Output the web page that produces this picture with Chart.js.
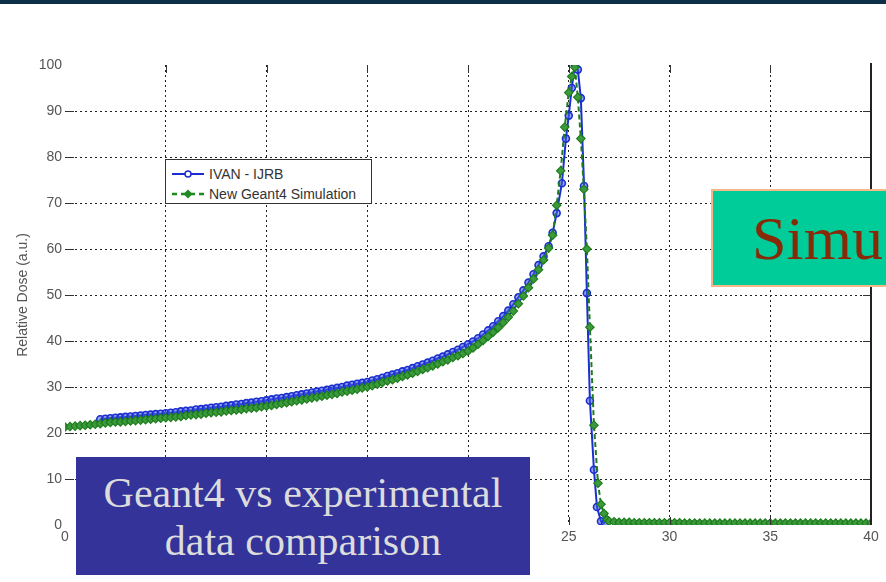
<!DOCTYPE html>
<html>
<head>
<meta charset="utf-8">
<script src="https://cdn.jsdelivr.net/npm/chart.js@4.4.0/dist/chart.umd.min.js"></script>
<style>
  html, body { margin: 0; padding: 0; width: 886px; height: 582px; overflow: hidden; background: #fff; }
  #chart { position: absolute; left: 0; top: 0; }
  .topbar { position: absolute; left: 0; top: 0; width: 886px; height: 4px; background: #0c3048; }
  .legend { position: absolute; left: 165px; top: 159px; width: 207px; height: 45px; box-sizing: border-box;
            border: 1px solid #333; background: #fff; font: 14px "Liberation Sans", Arial, sans-serif; color: #333; }
  .legend .row { position: absolute; left: 5px; height: 16px; line-height: 16px; white-space: nowrap; }
  .legend svg { position: absolute; left: 0; top: 2px; }
  .legend span { position: absolute; left: 38px; top: 0; }
  .simu { position: absolute; left: 711px; top: 189px; width: 200px; height: 98px; box-sizing: border-box;
          border: 2px solid #f5b888; background: #00cc99; color: #862a08;
          font: 62px "Liberation Serif", "Times New Roman", serif; line-height: 94px; padding-left: 39px; }
  .caption { position: absolute; left: 76px; top: 457px; width: 454px; height: 118px; box-sizing: border-box;
             background: #333399; color: #dcdcdc; text-align: center; padding-top: 12px;
             font: 42px "Liberation Serif", "Times New Roman", serif; line-height: 48px; }
</style>
</head>
<body>
<canvas id="chart" width="886" height="582"></canvas>
<div class="topbar"></div>
<div class="legend">
  <div class="row" style="top:6px; width:200px;">
    <svg width="34" height="12"><line x1="1" y1="6" x2="33" y2="6" stroke="#1a2fd0" stroke-width="2"/><circle cx="17" cy="6" r="3" fill="#fff" stroke="#1a2fd0" stroke-width="1.5"/></svg>
    <span>IVAN - IJRB</span>
  </div>
  <div class="row" style="top:26px; width:200px;">
    <svg width="34" height="12"><line x1="1" y1="6" x2="33" y2="6" stroke="#1f8a1f" stroke-width="2.5" stroke-dasharray="5,4"/><polygon points="17,1.5 21.5,6 17,10.5 12.5,6" fill="#1f8a1f"/></svg>
    <span>New Geant4 Simulation</span>
  </div>
</div>
<div class="simu">Simu</div>
<div class="caption">Geant4 vs experimental<br>data comparison</div>

<script>
// depth (mm) and relative dose
const depthSim = [
  0, 0.25, 0.5, 0.75, 1, 1.25, 1.5, 1.75, 2, 2.25, 2.5, 2.75, 3, 3.25, 3.5, 3.75,
  4, 4.25, 4.5, 4.75, 5, 5.25, 5.5, 5.75, 6, 6.25, 6.5, 6.75, 7, 7.25, 7.5, 7.75,
  8, 8.25, 8.5, 8.75, 9, 9.25, 9.5, 9.75, 10, 10.25, 10.5, 10.75, 11, 11.25, 11.5, 11.75,
  12, 12.25, 12.5, 12.75, 13, 13.25, 13.5, 13.75, 14, 14.25, 14.5, 14.75, 15, 15.25, 15.5, 15.75,
  16, 16.25, 16.5, 16.75, 17, 17.25, 17.5, 17.75, 18, 18.25, 18.5, 18.75, 19, 19.25, 19.5, 19.75,
  20, 20.25, 20.5, 20.75, 21, 21.25, 21.5, 21.75, 22, 22.25, 22.5, 22.75, 23, 23.25, 23.5, 23.75,
  24, 24.2, 24.4, 24.6, 24.8, 25, 25.15, 25.3, 25.45, 25.6, 25.75, 25.9, 26.05, 26.25, 26.45, 26.6, 26.75, 26.9,
  27, 27.25, 27.5, 27.75, 28, 28.25, 28.5, 28.75, 29, 29.25, 29.5, 29.75, 30, 30.25, 30.5, 30.75,
  31, 31.25, 31.5, 31.75, 32, 32.25, 32.5, 32.75, 33, 33.25, 33.5, 33.75, 34, 34.25, 34.5, 34.75,
  35, 35.25, 35.5, 35.75, 36, 36.25, 36.5, 36.75, 37, 37.25, 37.5, 37.75, 38, 38.25, 38.5, 38.75,
  39, 39.25, 39.5, 39.75, 40
];
const doseSim = [
  21.3, 21.4, 21.5, 21.6, 21.7, 21.8, 21.9, 22.0, 22.2, 22.3, 22.4, 22.4, 22.5, 22.6, 22.7, 22.8,
  22.9, 23.0, 23.1, 23.2, 23.3, 23.4, 23.5, 23.6, 23.8, 23.9, 24.0, 24.1, 24.3, 24.4, 24.5, 24.6,
  24.8, 24.9, 25.0, 25.1, 25.3, 25.4, 25.5, 25.7, 25.8, 26.0, 26.2, 26.4, 26.6, 26.8, 27.0, 27.2,
  27.4, 27.6, 27.8, 28.0, 28.2, 28.4, 28.6, 28.9, 29.1, 29.3, 29.5, 29.8, 30.0, 30.3, 30.6, 31.0,
  31.3, 31.6, 31.9, 32.3, 32.6, 33.0, 33.4, 33.8, 34.2, 34.6, 35.0, 35.5, 35.9, 36.4, 36.8, 37.3,
  37.8, 38.5, 39.3, 40.1, 41.0, 41.9, 42.9, 44.0, 45.2, 46.5, 48.1, 49.8, 51.6, 53.5, 55.5, 57.6,
  60.2, 63.0, 69.5, 77.0, 86.5, 94.0, 97.5, 99.5, 93.0, 84.0, 73.0, 60.0, 43.0, 21.7, 9.1, 4.5, 2.5, 1.2,
  0.8, 0.7, 0.6, 0.6, 0.6, 0.5, 0.5, 0.5, 0.5, 0.5, 0.5, 0.5, 0.5, 0.5, 0.5, 0.4,
  0.4, 0.4, 0.4, 0.4, 0.4, 0.4, 0.4, 0.4, 0.4, 0.4, 0.4, 0.4, 0.4, 0.4, 0.4, 0.4,
  0.4, 0.4, 0.4, 0.4, 0.4, 0.4, 0.4, 0.4, 0.4, 0.4, 0.4, 0.4, 0.4, 0.4, 0.4, 0.4,
  0.4, 0.4, 0.4, 0.4, 0.4
];

const depthExp = [
  1.75, 2, 2.25, 2.5, 2.75, 3, 3.25, 3.5, 3.75, 4, 4.25, 4.5, 4.75, 5, 5.25, 5.5, 5.75,
  6, 6.25, 6.5, 6.75, 7, 7.25, 7.5, 7.75, 8, 8.25, 8.5, 8.75, 9, 9.25, 9.5, 9.75,
  10, 10.25, 10.5, 10.75, 11, 11.25, 11.5, 11.75, 12, 12.25, 12.5, 12.75, 13, 13.25, 13.5, 13.75,
  14, 14.25, 14.5, 14.75, 15, 15.25, 15.5, 15.75, 16, 16.25, 16.5, 16.75, 17, 17.25, 17.5, 17.75,
  18, 18.25, 18.5, 18.75, 19, 19.25, 19.5, 19.75, 20, 20.25, 20.5, 20.75, 21, 21.25, 21.5, 21.75,
  22, 22.25, 22.5, 22.75, 23, 23.25, 23.5, 23.75, 24,
  24.2, 24.4, 24.66, 24.86, 25, 25.15, 25.3, 25.45, 25.6, 25.76, 25.9, 26.05, 26.25, 26.4, 26.6, 26.8
];
const doseExp = [
  23.0, 23.1, 23.2, 23.3, 23.4, 23.5, 23.6, 23.7, 23.8, 23.9, 24.0, 24.1, 24.2, 24.3, 24.4, 24.5, 24.7,
  24.8, 24.9, 25.1, 25.2, 25.3, 25.5, 25.6, 25.7, 25.9, 26.0, 26.2, 26.3, 26.5, 26.6, 26.8, 26.9,
  27.1, 27.3, 27.5, 27.6, 27.8, 28.0, 28.2, 28.4, 28.6, 28.8, 29.0, 29.2, 29.4, 29.6, 29.8, 30.0,
  30.3, 30.5, 30.7, 30.9, 31.1, 31.4, 31.7, 32.0, 32.4, 32.7, 33.0, 33.4, 33.7, 34.1, 34.5, 34.9,
  35.3, 35.7, 36.2, 36.6, 37.1, 37.6, 38.1, 38.7, 39.3, 39.9, 40.6, 41.4, 42.3, 43.2, 44.3, 45.4,
  46.6, 48.0, 49.5, 51.0, 52.7, 54.5, 56.5, 58.4, 60.6,
  63.5, 67.8, 74.3, 84.0, 89.0, 95.0, 100, 99.0, 92.8, 73.7, 50.4, 27.0, 12.0, 3.9, 0.8, 0.4
];

const xTicks = [0, 5, 10, 15, 20, 25, 30, 35, 40];
const yTicks = [0, 10, 20, 30, 40, 50, 60, 70, 80, 90, 100];

const blue = '#1a2fd0';
const green = '#1d7d1d';

// MATLAB-style inner tick marks and the solid right edge
const frame = {
  id: 'frame',
  afterDraw(chart) {
    const { ctx, chartArea: a, scales: { x, y } } = chart;
    ctx.save();
    ctx.strokeStyle = '#333';
    ctx.lineWidth = 1;
    ctx.beginPath();
    xTicks.slice(1, -1).forEach(v => {
      const px = Math.round(x.getPixelForValue(v)) + 0.5;
      ctx.moveTo(px, a.bottom); ctx.lineTo(px, a.bottom - 8);
      ctx.moveTo(px, a.top); ctx.lineTo(px, a.top + 8);
    });
    yTicks.slice(1, -1).forEach(v => {
      const py = Math.round(y.getPixelForValue(v)) + 0.5;
      ctx.moveTo(a.left + 1, py); ctx.lineTo(a.left + 9, py);
      ctx.moveTo(a.right, py); ctx.lineTo(a.right - 8, py);
    });
    ctx.stroke();
    ctx.strokeStyle = '#222';
    ctx.lineWidth = 2;
    ctx.beginPath();
    ctx.moveTo(a.right, a.top - 2);
    ctx.lineTo(a.right, a.bottom);
    ctx.stroke();
    ctx.restore();
  }
};

const tickFont = { family: '"Liberation Sans", Arial, sans-serif', size: 14 };

new Chart(document.getElementById('chart'), {
  type: 'line',
  data: {
    datasets: [{
      label: 'IVAN - IJRB',
      data: depthExp.map((d, i) => ({ x: d, y: doseExp[i] })),
      borderColor: blue,
      borderWidth: 2,
      pointStyle: 'circle',
      pointRadius: 3.5,
      pointBorderWidth: 1.6,
      pointBorderColor: blue,
      pointBackgroundColor: 'rgba(70,90,230,0.55)',
      order: 2
    }, {
      label: 'New Geant4 Simulation',
      data: depthSim.map((d, i) => ({ x: d, y: doseSim[i] })),
      borderColor: green,
      borderWidth: 2,
      borderDash: [5, 3],
      pointStyle: 'rectRot',
      pointRadius: 4.2,
      pointBorderWidth: 1.2,
      pointBorderColor: green,
      pointBackgroundColor: '#3c9a3c',
      order: 1
    }]
  },
  options: {
    responsive: false,
    animation: false,
    devicePixelRatio: 1,
    layout: { padding: { top: 65, right: 15, left: 0, bottom: 0 } },
    plugins: { legend: { display: false }, tooltip: { enabled: false } },
    scales: {
      x: {
        type: 'linear',
        min: 0, max: 40,
        afterFit: s => { s.height = 57; },
        afterBuildTicks: s => { s.ticks = xTicks.map(v => ({ value: v })); },
        grid: {
          color: c => (c.tick && (c.tick.value === 0 || c.tick.value === 40)) ? 'rgba(0,0,0,0)' : '#222',
          lineWidth: 1,
          drawTicks: false
        },
        border: { display: false, dash: [2, 3] },
        ticks: { color: '#555', font: tickFont, padding: 4, maxRotation: 0 }
      },
      y: {
        min: 0, max: 100,
        afterFit: s => { s.width = 65; },
        afterBuildTicks: s => { s.ticks = yTicks.map(v => ({ value: v })); },
        grid: {
          color: c => (c.tick && (c.tick.value === 0 || c.tick.value === 100)) ? 'rgba(0,0,0,0)' : '#222',
          lineWidth: 1,
          drawTicks: false
        },
        border: { display: false, dash: [2, 3] },
        ticks: { color: '#555', font: tickFont, padding: 3 },
        title: {
          display: true,
          text: 'Relative Dose (a.u.)',
          color: '#555',
          font: tickFont,
          padding: { top: 15, bottom: 0 }
        }
      }
    }
  },
  plugins: [frame]
});
</script>
</body>
</html>
